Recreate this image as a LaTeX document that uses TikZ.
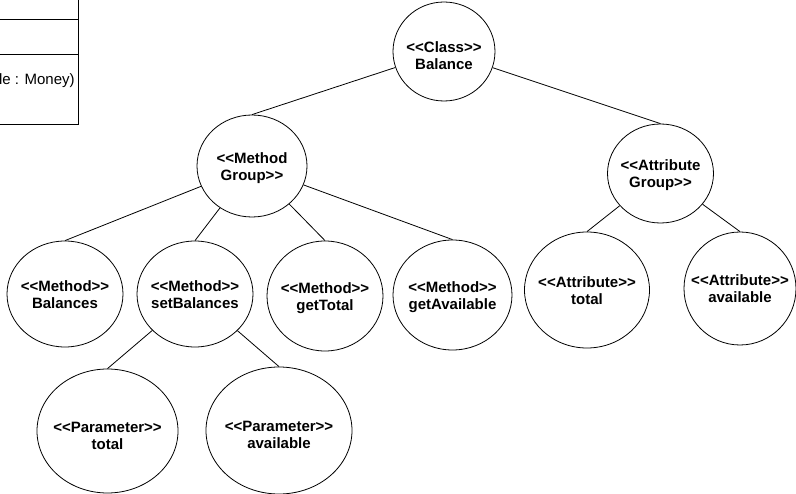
\documentclass[tikz,border=0pt]{standalone}
\usepackage{fontspec}
\setmainfont{Liberation Sans}
\usetikzlibrary{shapes.geometric}
% stereotype brackets, kept apart so no guillemet ligature forms
\newcommand\stereo[1]{<{}<#1>{}>}
% two centred lines of zero size, lowered by the optional amount,
% so the ellipse keeps its given size
\newcommand\twoline[3][2pt]{\raisebox{\dimexpr-3.75pt-#1\relax}[0pt][0pt]{\makebox[0pt]{\begin{tabular}{@{}c@{}}#2\\#3\end{tabular}}}}
\begin{document}
\begin{tikzpicture}[x=1pt,y=-1pt,
  line width=0.8pt,
  bubble/.style={draw, ellipse, inner sep=0pt,
    font=\fontsize{15}{17}\selectfont\bfseries},
  link/.style={draw, line width=0.8pt}]
\useasboundingbox (0,0) rectangle (796,494);
\clip (0,0) rectangle (796,494);

% class box at the upper left, partly outside the page
\draw (-40,-20) rectangle (78,124);
\draw (-40,19) -- (78,19);
\draw (-40,54) -- (78,54);
\node[anchor=east, inner sep=0pt, font=\fontsize{15}{17}\selectfont] (op) at (75,81) {le : Money)};

% tree of stereotyped elements
\node[bubble, minimum width=102, minimum height=99] (cls) at (444,51.5) {\twoline[6pt]{\stereo{Class}}{Balance}};
\node[bubble, minimum width=110, minimum height=102] (mg) at (252,166) {\twoline{<{}<Method}{Group>{}>}};
\node[bubble, minimum width=106, minimum height=99] (ag) at (660.5,173.5) {\twoline{<{}<Attribute}{Group>{}>}};

\node[bubble, minimum width=116, minimum height=106] (mbal) at (65,294) {\twoline{\stereo{Method}}{Balances}};
\node[bubble, minimum width=116, minimum height=106] (mset) at (195,294) {\twoline{\stereo{Method}}{setBalances}};
\node[bubble, minimum width=116, minimum height=110] (mtot) at (325,296) {\twoline{\stereo{Method}}{getTotal}};
\node[bubble, minimum width=119, minimum height=110] (mavl) at (452.5,295) {\twoline{\stereo{Method}}{getAvailable}};

\node[bubble, minimum width=125, minimum height=116] (atot) at (587,290) {\twoline{\stereo{Attribute}}{total}};
\node[bubble, minimum width=112, minimum height=113] (aavl) at (740,288.5) {\twoline{\stereo{Attribute}}{available}};

\node[bubble, minimum width=141, minimum height=124] (ptot) at (107.5,431) {\twoline[6pt]{\stereo{Parameter}}{total}};
\node[bubble, minimum width=146, minimum height=127] (pavl) at (279,430.5) {\twoline[6pt]{\stereo{Parameter}}{available}};

% connectors, parent to top of child
\path[link] (cls) -- (mg.north);
\path[link] (cls) -- (ag.north);
\path[link] (mg) -- (mbal.north);
\path[link] (mg) -- (mset.north);
\path[link] (mg) -- (mtot.north);
\path[link] (mg) -- (mavl.north);
\path[link] (ag) -- (atot.north);
\path[link] (ag) -- (aavl.north);
\path[link] (mset) -- (ptot.north);
\path[link] (mset) -- (pavl.north);
\end{tikzpicture}
\end{document}
